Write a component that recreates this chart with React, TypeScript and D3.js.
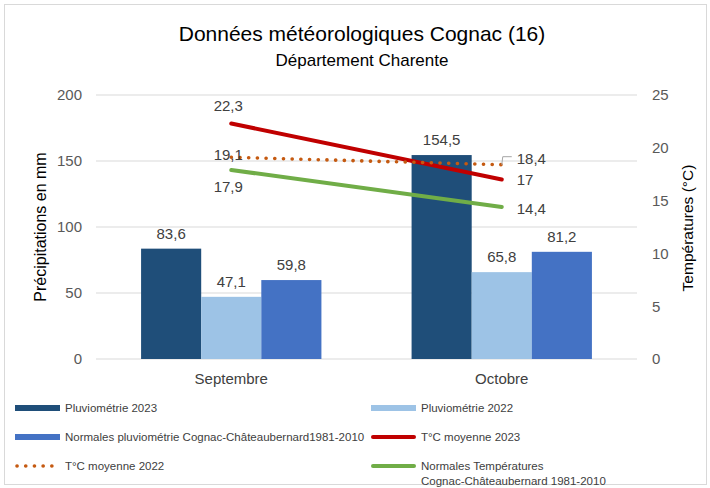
import React, { useRef, useEffect } from "react";
import * as d3 from "d3";

const months = ["Septembre", "Octobre"];

const barSeries = ["Pluviométrie 2023", "Pluviométrie 2022", "Normales pluviométrie Cognac-Châteaubernard1981-2010"];
const pluvio2023 = [83.6, 154.5];
const pluvio2022 = [47.1, 65.8];
const pluvioNormales = [59.8, 81.2];

const lineSeries = ["T°C moyenne 2023", "T°C moyenne 2022", "Normales Températures\nCognac-Châteaubernard 1981-2010"];
const temp2023 = [22.3, 17];
const temp2022 = [19.1, 18.4];
const tempNormales = [17.9, 14.4];

const precipTicks = [0, 50, 100, 150, 200];
const tempTicks = [0, 5, 10, 15, 20, 25];

const barColors = ["#1F4E79", "#9DC3E6", "#4472C4"];
const lineColors = ["#C00000", "#C55A11", "#70AD47"];

const W = 710;
const H = 488;
const FONT = "'Liberation Sans', Arial, sans-serif";

const fmt = (v: number) => String(v).replace(".", ",");

export default function App() {
  const svgRef = useRef<SVGSVGElement>(null);

  useEffect(() => {
    const svg = d3.select(svgRef.current);
    svg.selectAll("*").remove();

    const left = 96, right = 637, top = 95, bottom = 359;

    // frame
    svg.append("rect")
      .attr("x", 4.5).attr("y", 4.5).attr("width", 702).attr("height", 480)
      .attr("fill", "white").attr("stroke", "#d9d9d9");

    // titles
    svg.append("text").attr("x", 362).attr("y", 41)
      .attr("text-anchor", "middle").attr("font-size", 21).attr("fill", "#000")
      .text("Données météorologiques Cognac (16)");
    svg.append("text").attr("x", 362).attr("y", 66)
      .attr("text-anchor", "middle").attr("font-size", 17).attr("fill", "#000")
      .text("Département Charente");

    // scales
    const x0 = d3.scaleBand().domain(months).range([left, right]).padding(0);
    const x1 = d3.scaleBand().domain(barSeries).range([0, x0.bandwidth()])
      .paddingInner(0).paddingOuter(0.75);
    const yP = d3.scaleLinear().domain([0, 200]).range([bottom, top]);
    const yT = d3.scaleLinear().domain([0, 25]).range([bottom, top]);

    // grid
    svg.append("g").selectAll("line").data(precipTicks).join("line")
      .attr("x1", left).attr("x2", right)
      .attr("y1", d => yP(d)).attr("y2", d => yP(d))
      .attr("stroke", "#d9d9d9").attr("stroke-width", 1);

    // left axis
    const axL = svg.append("g").attr("transform", `translate(${left},0)`)
      .call(d3.axisLeft(yP).tickValues(precipTicks).tickSize(0).tickPadding(14));
    axL.select(".domain").remove();
    axL.selectAll("text").attr("font-size", 15).attr("fill", "#595959").attr("font-family", FONT);

    // right axis
    const axR = svg.append("g").attr("transform", `translate(${right},0)`)
      .call(d3.axisRight(yT).tickValues(tempTicks).tickSize(0).tickPadding(15));
    axR.select(".domain").remove();
    axR.selectAll("text").attr("font-size", 15).attr("fill", "#595959").attr("font-family", FONT);

    // x axis labels
    const axB = svg.append("g").attr("transform", `translate(0,${bottom})`)
      .call(d3.axisBottom(x0).tickSize(0).tickPadding(14));
    axB.select(".domain").remove();
    axB.selectAll("text").attr("font-size", 15).attr("fill", "#404040").attr("font-family", FONT);

    // axis titles
    svg.append("text").attr("transform", `translate(46,227) rotate(-90)`)
      .attr("text-anchor", "middle").attr("font-size", 16).attr("fill", "#000")
      .text("Précipitations en mm");
    svg.append("text").attr("transform", `translate(693,228) rotate(-90)`)
      .attr("text-anchor", "middle").attr("font-size", 15.5).attr("fill", "#000")
      .text("Températures (°C)");

    // bars
    const barData = [pluvio2023, pluvio2022, pluvioNormales];
    barData.forEach((vals, si) => {
      const g = svg.append("g");
      g.selectAll("rect").data(vals).join("rect")
        .attr("x", (d, i) => (x0(months[i]) as number) + (x1(barSeries[si]) as number))
        .attr("width", x1.bandwidth())
        .attr("y", d => yP(d))
        .attr("height", d => bottom - yP(d))
        .attr("fill", barColors[si]);
      g.selectAll("text").data(vals).join("text")
        .attr("x", (d, i) => (x0(months[i]) as number) + (x1(barSeries[si]) as number) + x1.bandwidth() / 2)
        .attr("y", d => yP(d) - 10)
        .attr("text-anchor", "middle").attr("font-size", 15).attr("fill", "#404040")
        .text(d => fmt(d));
    });

    // lines
    const lineData = [temp2023, temp2022, tempNormales];
    const cx = (i: number) => (x0(months[i]) as number) + x0.bandwidth() / 2;
    const line = d3.line<number>().x((d, i) => cx(i)).y(d => yT(d));
    lineData.forEach((vals, si) => {
      const p = svg.append("path").attr("d", line(vals)).attr("fill", "none")
        .attr("stroke", lineColors[si]);
      if (si === 1) {
        p.attr("stroke-width", 3.6).attr("stroke-dasharray", "0.1 8.6").attr("stroke-linecap", "round");
      } else {
        p.attr("stroke-width", 4).attr("stroke-linecap", "round");
      }
    });

    // line labels (Septembre: above/below, Octobre: right), offsets of label centre
    // order: 2023, 2022, normales
    const sepOffsets = [-18, -3, 17];
    const octOffsets = [0.5, -6, 1.5];
    lineData.forEach((vals, si) => {
      svg.append("text").attr("x", cx(0) - 3).attr("y", yT(vals[0]) + sepOffsets[si])
        .attr("dy", "0.35em")
        .attr("text-anchor", "middle").attr("font-size", 15).attr("fill", "#404040")
        .text(fmt(vals[0]));
      svg.append("text").attr("x", cx(1) + 15).attr("y", yT(vals[1]) + octOffsets[si])
        .attr("dy", "0.35em")
        .attr("text-anchor", "start").attr("font-size", 15).attr("fill", "#404040")
        .text(fmt(vals[1]));
    });
    // leader line for 18,4
    const ly = yT(temp2022[1]);
    svg.append("path")
      .attr("d", `M${cx(1)},${ly} L${cx(1) + 1},${ly - 8} L${cx(1) + 10},${ly - 8}`)
      .attr("fill", "none").attr("stroke", "#a6a6a6").attr("stroke-width", 1);

    // legend
    const legend = [
      { label: barSeries[0], color: barColors[0], type: "bar" },
      { label: barSeries[1], color: barColors[1], type: "bar" },
      { label: barSeries[2], color: barColors[2], type: "bar" },
      { label: lineSeries[0], color: lineColors[0], type: "line" },
      { label: lineSeries[1], color: lineColors[1], type: "dot" },
      { label: lineSeries[2], color: lineColors[2], type: "line" },
    ];
    const colX = [15, 371];
    const rowY = [408, 437, 466];
    legend.forEach((it, i) => {
      const lx = colX[i % 2], ly2 = rowY[Math.floor(i / 2)];
      const g = svg.append("g").attr("transform", `translate(${lx},${ly2})`);
      if (it.type === "bar") {
        g.append("rect").attr("x", 0).attr("y", -3).attr("width", 45).attr("height", 6).attr("fill", it.color);
      } else if (it.type === "line") {
        g.append("line").attr("x1", 2).attr("x2", 43).attr("y1", 0).attr("y2", 0)
          .attr("stroke", it.color).attr("stroke-width", 4).attr("stroke-linecap", "round");
      } else {
        g.append("line").attr("x1", 2).attr("x2", 45).attr("y1", 0).attr("y2", 0)
          .attr("stroke", it.color).attr("stroke-width", 3.6)
          .attr("stroke-dasharray", "0.1 8.6").attr("stroke-linecap", "round");
      }
      it.label.split("\n").forEach((t, k) => {
        g.append("text").attr("x", 50).attr("y", 4 + k * 15)
          .attr("font-size", 11.5).attr("fill", "#404040").text(t);
      });
    });
  }, []);

  return (
    <div style={{ position: "absolute", left: 0, top: 0 }}>
      <svg ref={svgRef} width={W} height={H} style={{ display: "block", fontFamily: FONT }} />
    </div>
  );
}
